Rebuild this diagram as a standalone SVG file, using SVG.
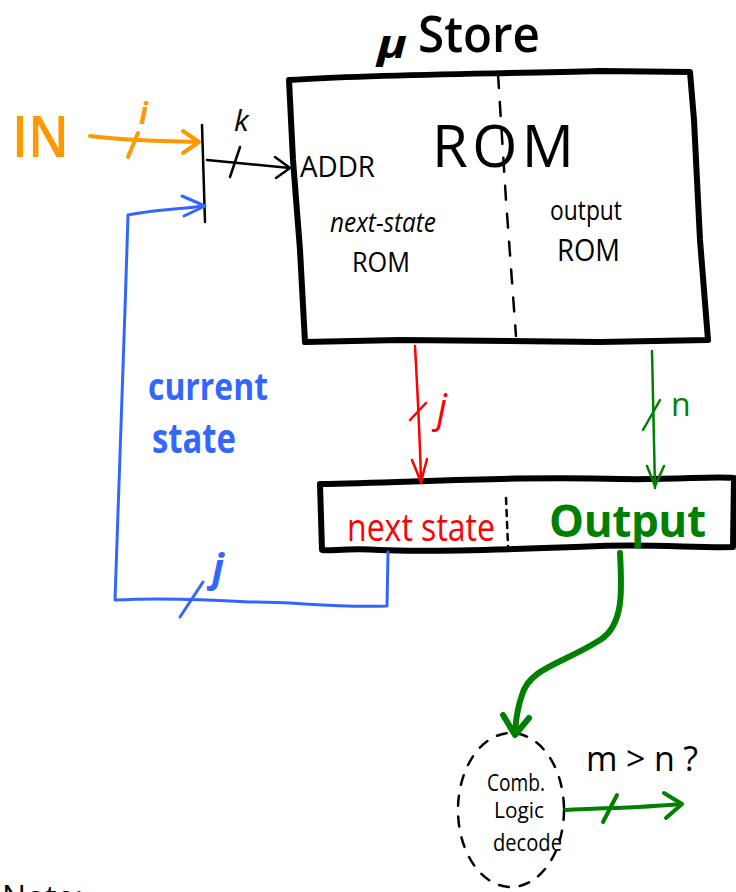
<svg xmlns="http://www.w3.org/2000/svg" width="736" height="892" viewBox="0 0 736 892">
  <defs>
    <style>
      .hand { font-family: "Open Sans", "Liberation Sans", sans-serif; }
      .ink { stroke: #000; fill: none; stroke-linecap: round; stroke-linejoin: round; }
      .orange { stroke: #ff9900; fill: none; stroke-linecap: round; stroke-linejoin: round; }
      .blue { stroke: #3366ff; fill: none; stroke-linecap: round; stroke-linejoin: round; }
      .red { stroke: #ff0000; fill: none; stroke-linecap: round; stroke-linejoin: round; }
      .green { stroke: #008000; fill: none; stroke-linecap: round; stroke-linejoin: round; }
    </style>
  </defs>

  <rect width="736" height="892" fill="#fff"/>

  <!-- micro-store ROM -->
  <g id="ustore">
    <text class="hand" x="377" y="58" font-size="40" font-weight="bold" font-style="italic" textLength="30" lengthAdjust="spacingAndGlyphs">μ</text>
    <text class="hand" x="418" y="52" font-size="50" font-weight="600" textLength="122" lengthAdjust="spacingAndGlyphs">Store</text>
    <path class="ink" stroke-width="6" d="M289 80 C380 74 500 74 600 71 L690 72 L694 120 L700 240 L708 340 L600 342 L400 340 L305 342 L300 250 L293 160 Z"/>
    <path class="ink" stroke-width="2.5" stroke-dasharray="14 14" d="M498 74 L506 200 L516 336"/>
    <text class="hand" x="432" y="167" font-size="58" textLength="142" lengthAdjust="spacing">ROM</text>
    <text class="hand" x="300" y="177" font-size="30" textLength="75" lengthAdjust="spacingAndGlyphs">ADDR</text>
    <text class="hand" x="330" y="232" font-size="27" textLength="106" lengthAdjust="spacingAndGlyphs" font-style="italic">next-state</text>
    <text class="hand" x="352" y="272" font-size="28" textLength="58" lengthAdjust="spacingAndGlyphs">ROM</text>
    <text class="hand" x="550" y="220" font-size="27" textLength="72" lengthAdjust="spacingAndGlyphs">output</text>
    <text class="hand" x="557" y="261" font-size="31" textLength="63" lengthAdjust="spacingAndGlyphs">ROM</text>
  </g>

  <!-- input label -->
  <g id="in">
    <text class="hand" x="12" y="157" font-size="58" fill="#ff9900" font-weight="600" textLength="57" lengthAdjust="spacingAndGlyphs">IN</text>
  </g>

  <!-- address concatenation bar -->
  <g id="addr-bar">
    <path class="ink" stroke-width="2.5" d="M202 125 L205 222"/>
  </g>

  <!-- state / output register -->
  <g id="register">
    <path class="ink" stroke-width="6" d="M320 484 C420 482 520 476 620 479 C680 480 710 476 734 478 L733 547 C700 548 650 544 600 546 C500 550 420 552 380 550 C350 548 330 551 322 550 Z"/>
    <path class="ink" stroke-width="2.5" stroke-dasharray="6 6" d="M506 498 L508 546"/>
    <text class="hand" x="347" y="541" font-size="38" fill="#ff0000" textLength="148" lengthAdjust="spacingAndGlyphs">next state</text>
    <text class="hand" x="549" y="537" font-size="44" fill="#008000" font-weight="bold" textLength="157" lengthAdjust="spacing">Output</text>
  </g>

  <!-- decode logic -->
  <g id="decode">
    <ellipse class="ink" cx="511" cy="810" rx="53" ry="77" stroke-width="2.5" stroke-dasharray="10 11"/>
    <text class="hand" x="487" y="791" font-size="24" textLength="58" lengthAdjust="spacingAndGlyphs">Comb.</text>
    <text class="hand" x="494" y="818" font-size="21" textLength="50" lengthAdjust="spacingAndGlyphs">Logic</text>
    <text class="hand" x="493" y="851" font-size="24" textLength="69" lengthAdjust="spacingAndGlyphs">decode</text>
    <text class="hand" x="586" y="771" font-size="34" textLength="112" lengthAdjust="spacing">m &gt; n ?</text>
  </g>

  <text class="hand" x="2" y="909" font-size="32">Note:</text>

  <!-- connectors -->
  <g id="connectors">
    <!-- IN to address bar, width i -->
    <path class="orange" stroke-width="4" d="M90 136 C120 140 150 141 198 142"/>
    <path class="orange" stroke-width="4" d="M183 131 L199 142 L183 153"/>
    <path class="orange" stroke-width="4" d="M128 157 L138 133"/>
    <text class="hand" x="139" y="124" font-size="30" fill="#ff9900" font-style="italic" font-weight="bold">i</text>

    <!-- address bar to ROM, width k -->
    <path class="ink" stroke-width="2.5" d="M207 160 L290 168"/>
    <path class="ink" stroke-width="2.5" d="M275 157 L290 168 L276 178"/>
    <path class="ink" stroke-width="2.5" d="M230 177 L240 147"/>
    <text class="hand" x="234" y="131" font-size="30" font-style="italic">k</text>

    <!-- ROM next-state field to register, width j -->
    <path class="red" stroke-width="2.5" d="M415 346 C418 400 420 440 421 483"/>
    <path class="red" stroke-width="2.5" d="M412 460 L421 482 L427 459"/>
    <path class="red" stroke-width="2.5" d="M410 420 L426 403"/>
    <text class="hand" x="437" y="422" font-size="40" fill="#ff0000" font-style="italic">j</text>

    <!-- ROM output field to register, width n -->
    <path class="green" stroke-width="2.5" d="M652 351 L655 488"/>
    <path class="green" stroke-width="2.5" d="M647 466 L655 486 L664 466"/>
    <path class="green" stroke-width="2.5" d="M643 430 L660 400"/>
    <text class="hand" x="671" y="416" font-size="32" fill="#008000">n</text>

    <!-- current state feedback, width j -->
    <path class="blue" stroke-width="3" d="M388 552 L387 606 C330 608 290 601 250 602 C200 599 150 598 115 600 C118 500 124 350 128 215 C150 210 180 209 204 206"/>
    <path class="blue" stroke-width="3" d="M182 196 L205 206 L184 216"/>
    <path class="blue" stroke-width="3" d="M180 617 L203 582"/>
    <text class="hand" x="212" y="582" font-size="40" fill="#3366ff" font-style="italic" font-weight="bold">j</text>
    <text class="hand" x="148" y="400" font-size="38" fill="#3366ff" font-weight="bold" textLength="120" lengthAdjust="spacingAndGlyphs">current</text>
    <text class="hand" x="152" y="453" font-size="42" fill="#3366ff" font-weight="bold" textLength="84" lengthAdjust="spacingAndGlyphs">state</text>

    <!-- register output field to decode logic -->
    <path class="green" stroke-width="6" d="M620 553 C622 590 624 625 600 640 C560 665 530 668 522 695 C516 712 516 722 515 733"/>
    <path class="green" stroke-width="6" d="M503 715 L515 735 L529 718"/>

    <!-- decode logic output, width m -->
    <path class="green" stroke-width="4" d="M566 810 C600 808 640 808 680 804"/>
    <path class="green" stroke-width="4" d="M664 793 L682 804 L666 818"/>
    <path class="green" stroke-width="4" d="M603 822 L617 795"/>
  </g>
</svg>
